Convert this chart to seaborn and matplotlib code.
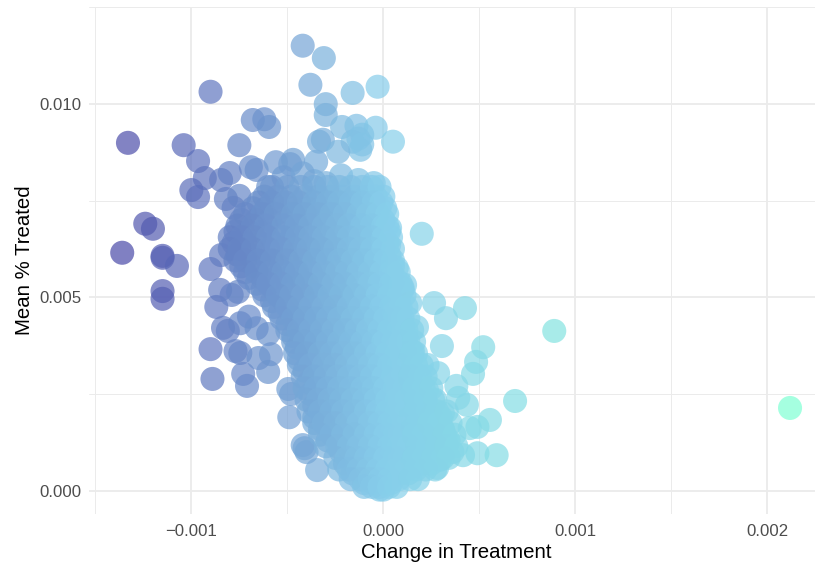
import matplotlib
matplotlib.use("Agg")
import matplotlib.pyplot as plt
import seaborn as sns
import pandas as pd
from matplotlib.colors import LinearSegmentedColormap, Normalize

# values are (change, mean) in units of 0.001
top_points = [
    (-0.42, 11.5), (-0.31, 11.18), (-0.38, 10.49), (-0.03, 10.44), (-0.16, 10.28),
    (-0.30, 9.99), (-0.30, 9.71), (-0.90, 10.31), (-0.68, 9.58), (-0.62, 9.60),
    (-0.595, 9.4), (-0.215, 9.40), (-0.14, 9.43), (-0.04, 9.38), (0.05, 9.02),
    (-0.11, 9.2), (-0.16, 9.02), (-0.12, 8.81), (-0.335, 9.02), (-0.315, 9.07),
    (-0.35, 8.5), (-0.235, 8.76), (-0.13, 9.1), (-0.11, 8.95), (-0.75, 8.93),
    (-0.69, 8.36), (-0.66, 8.29), (-0.56, 8.49), (-0.47, 8.55), (-0.485, 8.44),
    (-0.52, 8.1), (-0.36, 8.0), (-0.22, 8.15), (-0.13, 8.03), (-0.05, 7.95),
    (-0.60, 7.85), (-0.42, 8.2), (-0.30, 7.95),
]
left_points = [
    (-1.33, 8.99), (-1.04, 8.93), (-0.965, 8.52), (-0.93, 8.08),
    (-1.0, 7.77), (-0.965, 7.59), (-0.845, 8.03), (-0.80, 8.21), (-0.82, 7.54),
    (-0.78, 7.31), (-0.75, 7.62), (-1.36, 6.15), (-1.24, 6.9), (-1.2, 6.77),
    (-1.15, 6.02), (-1.15, 6.07), (-1.075, 5.81), (-1.15, 5.16), (-1.15, 4.96),
    (-0.90, 5.73), (-0.845, 6.09), (-0.87, 4.75), (-0.85, 5.19), (-0.79, 5.06),
    (-0.757, 5.14), (-0.835, 4.21), (-0.81, 4.13), (-0.745, 4.33), (-0.90, 3.66),
    (-0.89, 2.89), (-0.77, 3.61), (-0.745, 3.56), (-0.73, 3.02), (-0.71, 2.71),
    (-0.65, 3.43), (-0.60, 3.07), (-0.585, 3.53), (-0.60, 4.05), (-0.70, 4.5),
    (-0.66, 4.2), (-0.495, 2.63), (-0.49, 1.9), (-0.41, 1.10), (-0.42, 1.18),
    (-0.345, 0.535), (-0.48, 2.5), (-0.40, 1.0),
]
right_points = [
    (0.2, 6.64), (0.035, 6.79), (0.03, 6.35), (0.07, 5.76), (0.113, 5.32), (0.10, 5.25),
    (2.118, 2.14), (0.89, 4.13), (0.686, 2.32), (0.415, 0.92), (0.49, 0.97), (0.59, 0.92),
    (0.49, 1.65), (0.555, 1.83), (0.435, 2.22), (0.39, 2.4), (0.38, 2.71), (0.285, 3.04),
    (0.23, 3.25), (0.305, 3.74), (0.227, 2.6), (0.175, 4.23), (0.264, 4.85), (0.326, 4.46),
    (0.425, 4.72), (0.52, 3.71), (0.483, 3.33), (0.467, 3.02), (0.31, 2.0), (0.26, 2.34),
    (0.207, 2.09), (0.155, 3.59), (0.14, 4.85), (0.45, 1.62), (0.32, 1.05), (0.295, 0.8),
    (0.28, 0.59), (0.31, 1.57), (0.24, 1.3), (0.36, 1.0), (0.34, 1.3), (0.27, 1.7),
]

# dense body, one band of mean values at a time
band_means = [7.6, 7.3, 7.0, 6.7, 6.4, 6.1, 5.8, 5.5, 5.2, 4.9, 4.6, 4.3, 4.0,
              3.7, 3.4, 3.1, 2.8, 2.5, 2.2, 1.9, 1.6, 1.3, 1.0, 0.7, 0.45, 0.2, 0.03]
band_changes = [
    [-0.62, -0.55, -0.48, -0.41, -0.34, -0.27, -0.21, -0.15, -0.09, -0.04, 0.0],
    [-0.68, -0.61, -0.54, -0.47, -0.39, -0.32, -0.26, -0.19, -0.13, -0.07, -0.02, 0.01],
    [-0.74, -0.66, -0.59, -0.5, -0.44, -0.37, -0.3, -0.23, -0.16, -0.1, -0.05, 0.0],
    [-0.77, -0.7, -0.63, -0.55, -0.47, -0.4, -0.33, -0.26, -0.2, -0.13, -0.08, -0.02, 0.03],
    [-0.78, -0.72, -0.64, -0.57, -0.5, -0.43, -0.36, -0.29, -0.22, -0.16, -0.1, -0.04, 0.02],
    [-0.76, -0.7, -0.62, -0.55, -0.48, -0.41, -0.34, -0.27, -0.2, -0.14, -0.08, -0.02, 0.03],
    [-0.74, -0.67, -0.6, -0.53, -0.46, -0.39, -0.32, -0.25, -0.18, -0.12, -0.06, 0.0, 0.05],
    [-0.7, -0.63, -0.56, -0.5, -0.43, -0.36, -0.29, -0.22, -0.16, -0.1, -0.04, 0.02, 0.06],
    [-0.63, -0.57, -0.5, -0.43, -0.37, -0.3, -0.24, -0.17, -0.11, -0.05, 0.0, 0.06, 0.1],
    [-0.58, -0.52, -0.46, -0.4, -0.33, -0.27, -0.2, -0.14, -0.08, -0.02, 0.04, 0.08],
    [-0.54, -0.48, -0.42, -0.36, -0.3, -0.24, -0.17, -0.11, -0.05, 0.0, 0.05, 0.09],
    [-0.5, -0.45, -0.39, -0.33, -0.27, -0.21, -0.15, -0.09, -0.03, 0.02, 0.07, 0.1],
    [-0.47, -0.42, -0.36, -0.3, -0.24, -0.18, -0.12, -0.06, -0.01, 0.04, 0.08, 0.12],
    [-0.45, -0.4, -0.34, -0.28, -0.22, -0.16, -0.1, -0.04, 0.01, 0.06, 0.1, 0.13],
    [-0.44, -0.38, -0.32, -0.26, -0.2, -0.14, -0.08, -0.03, 0.02, 0.07, 0.11, 0.14],
    [-0.41, -0.36, -0.3, -0.24, -0.18, -0.12, -0.06, -0.01, 0.04, 0.09, 0.12, 0.15],
    [-0.39, -0.34, -0.28, -0.22, -0.16, -0.1, -0.05, 0.0, 0.05, 0.1, 0.14, 0.17],
    [-0.38, -0.33, -0.27, -0.21, -0.15, -0.09, -0.04, 0.01, 0.06, 0.11, 0.15, 0.2],
    [-0.36, -0.31, -0.25, -0.19, -0.13, -0.08, -0.02, 0.03, 0.08, 0.13, 0.18, 0.23],
    [-0.36, -0.3, -0.24, -0.18, -0.12, -0.06, -0.01, 0.04, 0.09, 0.14, 0.19, 0.25, 0.3],
    [-0.33, -0.28, -0.22, -0.16, -0.1, -0.05, 0.0, 0.05, 0.1, 0.15, 0.2, 0.26, 0.31],
    [-0.29, -0.24, -0.19, -0.13, -0.08, -0.03, 0.02, 0.07, 0.12, 0.17, 0.22, 0.28, 0.33],
    [-0.22, -0.17, -0.12, -0.07, -0.02, 0.03, 0.08, 0.13, 0.18, 0.23, 0.28, 0.3],
    [-0.2, -0.15, -0.1, -0.05, 0.0, 0.05, 0.1, 0.15, 0.2, 0.25],
    [-0.16, -0.11, -0.06, -0.01, 0.04, 0.09, 0.13],
    [-0.1, -0.05, 0.0, 0.04],
    [-0.02, 0.0],
]

# second pass over the body, between the bands above
fill_means = [7.85, 7.45, 7.15, 6.85, 6.55, 6.25, 5.95, 5.65, 5.35, 5.05, 4.75, 4.45, 4.15,
              3.85, 3.55, 3.25, 2.95, 2.65, 2.35, 2.05, 1.75, 1.45, 1.15, 0.85, 0.55, 0.3, 0.1]
fill_changes = [
    [-0.58, -0.5, -0.43, -0.36, -0.29, -0.23, -0.17, -0.11, -0.06, -0.02],
    [-0.65, -0.58, -0.51, -0.44, -0.36, -0.29, -0.23, -0.17, -0.11, -0.05, -0.01],
    [-0.72, -0.63, -0.56, -0.47, -0.41, -0.34, -0.27, -0.2, -0.13, -0.08, -0.03, 0.02],
    [-0.76, -0.68, -0.61, -0.52, -0.45, -0.38, -0.31, -0.24, -0.18, -0.11, -0.06, 0.0, 0.02],
    [-0.8, -0.74, -0.67, -0.6, -0.52, -0.45, -0.38, -0.31, -0.24, -0.18, -0.12, -0.06, 0.0, 0.04],
    [-0.8, -0.75, -0.68, -0.6, -0.53, -0.46, -0.39, -0.32, -0.25, -0.18, -0.12, -0.06, 0.0, 0.05],
    [-0.77, -0.72, -0.65, -0.58, -0.5, -0.43, -0.36, -0.29, -0.23, -0.16, -0.1, -0.04, 0.01, 0.05],
    [-0.72, -0.66, -0.59, -0.52, -0.45, -0.38, -0.31, -0.24, -0.19, -0.13, -0.07, -0.01, 0.04, 0.08],
    [-0.66, -0.6, -0.53, -0.47, -0.4, -0.33, -0.26, -0.2, -0.13, -0.07, -0.02, 0.04, 0.09],
    [-0.62, -0.55, -0.48, -0.42, -0.35, -0.28, -0.22, -0.15, -0.09, -0.03, 0.03, 0.08, 0.11],
    [-0.57, -0.5, -0.44, -0.38, -0.31, -0.25, -0.18, -0.12, -0.06, -0.01, 0.04, 0.09, 0.12],
    [-0.53, -0.47, -0.41, -0.35, -0.29, -0.23, -0.16, -0.1, -0.04, 0.01, 0.06, 0.1, 0.13],
    [-0.5, -0.44, -0.38, -0.32, -0.26, -0.2, -0.14, -0.08, -0.02, 0.03, 0.08, 0.12, 0.15],
    [-0.47, -0.41, -0.35, -0.29, -0.23, -0.17, -0.11, -0.05, 0.0, 0.05, 0.09, 0.13, 0.16],
    [-0.46, -0.4, -0.33, -0.27, -0.21, -0.15, -0.09, -0.03, 0.02, 0.07, 0.11, 0.15, 0.17],
    [-0.44, -0.38, -0.31, -0.25, -0.19, -0.13, -0.07, -0.02, 0.03, 0.08, 0.13, 0.17, 0.2],
    [-0.42, -0.36, -0.3, -0.24, -0.18, -0.12, -0.06, 0.0, 0.05, 0.1, 0.14, 0.19, 0.22],
    [-0.41, -0.35, -0.29, -0.23, -0.17, -0.11, -0.05, 0.01, 0.06, 0.11, 0.16, 0.21, 0.25],
    [-0.4, -0.34, -0.28, -0.22, -0.16, -0.1, -0.04, 0.02, 0.07, 0.12, 0.17, 0.22, 0.27],
    [-0.39, -0.33, -0.27, -0.21, -0.15, -0.09, -0.03, 0.02, 0.07, 0.12, 0.17, 0.23, 0.28, 0.33],
    [-0.36, -0.31, -0.25, -0.19, -0.13, -0.07, -0.02, 0.03, 0.08, 0.13, 0.18, 0.24, 0.29, 0.35],
    [-0.33, -0.27, -0.21, -0.15, -0.09, -0.04, 0.01, 0.06, 0.11, 0.16, 0.21, 0.27, 0.32, 0.37],
    [-0.3, -0.24, -0.18, -0.13, -0.07, -0.02, 0.03, 0.08, 0.13, 0.18, 0.23, 0.28, 0.33, 0.38],
    [-0.25, -0.19, -0.14, -0.09, -0.04, 0.01, 0.06, 0.11, 0.16, 0.21, 0.26, 0.31, 0.34],
    [-0.23, -0.18, -0.13, -0.08, -0.03, 0.02, 0.07, 0.12, 0.17, 0.22, 0.27],
    [-0.17, -0.12, -0.07, -0.02, 0.03, 0.08, 0.14, 0.18],
    [-0.1, -0.06, -0.02, 0.03, 0.07],
]

x_ticks = [-0.001, 0.0, 0.001, 0.002]
x_tick_labels = ["\u22120.001", "0.000", "0.001", "0.002"]
x_minor = [-0.0015, -0.0005, 0.0005, 0.0015]
y_ticks = [0.0, 0.005, 0.01]
y_tick_labels = ["0.000", "0.005", "0.010"]
y_minor = [0.0025, 0.0075, 0.0125]

rows = top_points + left_points + right_points
for m, changes in zip(band_means + fill_means, band_changes + fill_changes):
    rows += [(c, m) for c in changes]
df = pd.DataFrame(rows, columns=["change", "mean_treated"]) / 1000

sns.set_theme(style="white")
plt.rcParams["font.family"] = ["Liberation Sans", "DejaVu Sans"]

fig = plt.figure(figsize=(8.15, 5.69), dpi=100)
ax = fig.add_axes([89 / 815, 1 - 514 / 569, 1 - 89 / 815, (514 - 7) / 569])

cmap = LinearSegmentedColormap.from_list("trt", ["#2b0384", "#87ceeb", "#7fffd4"])
limit = df["change"].abs().max()
sns.scatterplot(data=df, x="change", y="mean_treated", hue="change", palette=cmap,
                hue_norm=Normalize(-limit, limit), s=300, alpha=0.7, linewidth=0,
                legend=False, ax=ax, zorder=3)

ax.set_xlim(-0.001533, 0.002248)
ax.set_ylim(-0.0006, 0.0125)
ax.set_xticks(x_ticks, x_tick_labels)
ax.set_yticks(y_ticks, y_tick_labels)
ax.set_xticks(x_minor, minor=True)
ax.set_yticks(y_minor, minor=True)
ax.grid(True, which="major", color="#EBEBEB", lw=1.3)
ax.grid(True, which="minor", color="#EBEBEB", lw=0.7)
ax.set_axisbelow(True)
ax.tick_params(which="both", length=0, labelsize=12.1, labelcolor="#4D4D4D")
ax.tick_params(axis="x", pad=7)
ax.tick_params(axis="y", pad=5.5)
ax.set_xlabel("Change in Treatment", fontsize=14.7, color="black", va="center")
ax.set_ylabel("Mean % Treated", fontsize=14.7, color="black", va="center")
ax.xaxis.set_label_coords((456.5 - 89) / 726, (514 - 552) / 507)
ax.yaxis.set_label_coords((25 - 89) / 726, 0.5)
sns.despine(ax=ax, left=True, bottom=True)

fig.savefig("out.png", dpi=100)
